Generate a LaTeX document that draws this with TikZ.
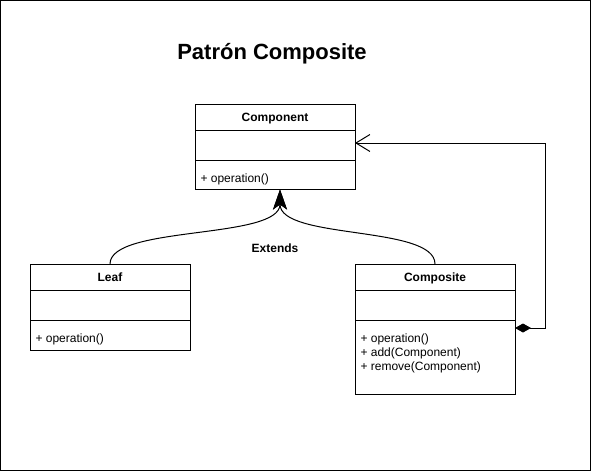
\documentclass[tikz,border=0pt]{standalone}
\usepackage{fontspec}
\setmainfont{Liberation Sans}
\usetikzlibrary{positioning,arrows.meta}

\tikzset{
  classhead/.style={draw, outer sep=0pt, inner sep=0pt, minimum width=160pt, minimum height=26pt,
    text depth=0pt, font=\fontsize{12}{14}\selectfont\bfseries},
  classpart/.style={draw, outer sep=0pt, inner sep=0pt, minimum width=160pt, minimum height=#1},
  methods/.style={anchor=north west, inner sep=0pt, align=left, font=\fontsize{12}{14}\selectfont},
  extends/.style={-{Stealth[length=20pt,width=14pt,inset=5pt]}},
}

\begin{document}
\begin{tikzpicture}[x=1pt,y=-1pt,line width=1pt]
\useasboundingbox (0,0) rectangle (591,471);
\draw (0.5,0.5) rectangle (590.5,470.5);

\node[font=\fontsize{22}{26}\selectfont\bfseries, text depth=0pt] (title) at (272,51) {Patrón Composite};

% Component
\node[classhead] (comphead) at (275,117) {Component};
\node[classpart=30pt, below=0pt of comphead] (compattr) {};
\node[classpart=29pt, below=0pt of compattr] (compmeth) {};
\node[methods] (compops) at ([xshift=5pt,yshift=-13pt]compmeth.north west) {+ operation()};

% Leaf
\node[classhead] (leafhead) at (110,277) {Leaf};
\node[classpart=30pt, below=0pt of leafhead] (leafattr) {};
\node[classpart=30pt, below=0pt of leafattr] (leafmeth) {};
\node[methods] (leafops) at ([xshift=5pt,yshift=-13pt]leafmeth.north west) {+ operation()};

% Composite
\node[classhead] (cmpshead) at (435,277) {Composite};
\node[classpart=30pt, below=0pt of cmpshead] (cmpsattr) {};
\node[classpart=74pt, below=0pt of cmpsattr] (cmpsmeth) {};
\node[methods] (cmpsops) at ([xshift=5pt,yshift=-13pt]cmpsmeth.north west)
  {+ operation()\\+ add(Component)\\+ remove(Component)};

\coordinate (tip) at (280,189.5);
\draw[extends] (leafhead.north) .. controls (110,225) and (280,240) .. (tip);
\draw[extends] (cmpshead.north) .. controls (435,225) and (280,240) .. (tip);
\node[font=\fontsize{12}{14}\selectfont\bfseries, text depth=0pt] (extlabel) at (275,248) {Extends};

\draw[{Diamond[length=16pt,width=9pt]}-{Straight Barb[length=14pt,width=17pt]}]
  ([yshift=-8pt]cmpsmeth.north east) -- ++(30,0) |- ([yshift=-13pt]compattr.north east);
\end{tikzpicture}
\end{document}
